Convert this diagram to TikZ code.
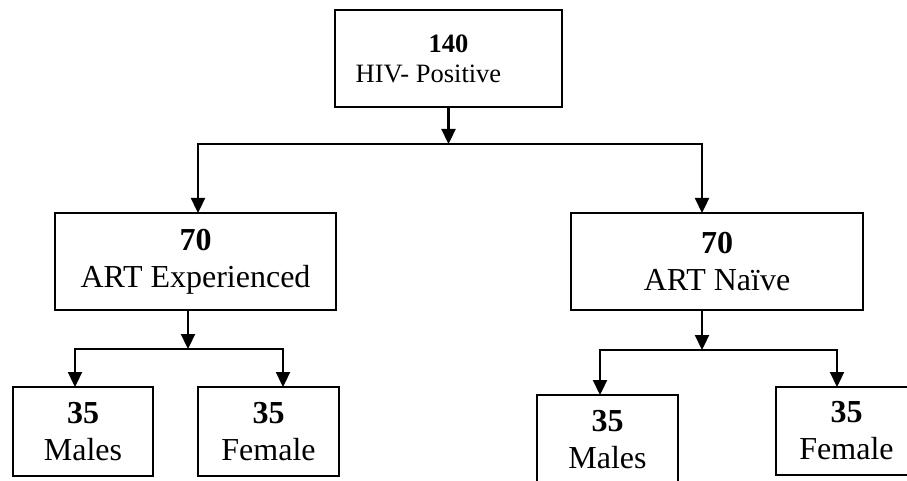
\documentclass[tikz,border=0pt]{standalone}
\usepackage{fontspec}
\setmainfont{Liberation Serif}
\usetikzlibrary{arrows.meta}
\begin{document}
\begin{tikzpicture}[x=1pt,y=-1pt,
  box/.style={draw, line width=2pt, inner sep=0pt, outer sep=0pt, align=center, font=\fontsize{32}{37}\selectfont},
  conn/.style={line width=2.3pt},
  hline/.style={conn, line cap=rect},
  arr/.style={conn, -{Triangle[width=14pt,length=15pt]}}]
\useasboundingbox (0,0) rectangle (907,481);
% boxes
\node[box, minimum width=227pt, minimum height=97pt, font=\fontsize{26.5}{30}\selectfont] (top) at (448.5,58.5) {\textbf{140}\\HIV- Positive\rule{40pt}{0pt}};
\node[box, minimum width=281pt, minimum height=97pt] (ML) at (195.5,261.5) {\textbf{70}\\ART Experienced};
\node[box, minimum width=292pt, minimum height=97pt] (MR) at (717,261.5) {\textbf{70}\\ART Naïve};
\node[box, minimum width=140pt, minimum height=89pt] (LM) at (83,431.5) {\textbf{35}\\Males};
\node[box, minimum width=141pt, minimum height=89pt] (LF) at (268.5,431.5) {\textbf{35}\\Female};
\node[box, minimum width=141pt, minimum height=89pt] (RM) at (607.5,439.5) {\textbf{35}\\Males};
\node[box, minimum width=141pt, minimum height=88pt] (RF) at (846.5,431) {\textbf{35}\\Female};
% junction coordinates
\coordinate (j0) at (448.5,144);
\coordinate (jL) at (198,144);
\coordinate (jR) at (702,144);
\coordinate (kL) at (188,349);
\coordinate (kLa) at (75,349);
\coordinate (kLb) at (283,349);
\coordinate (kR) at (702,350);
\coordinate (kRa) at (600,350);
\coordinate (kRb) at (837,350);
% connectors top level
\draw[arr] (top.south) -- (j0);
\draw[hline] (jL) -- (jR);
\draw[arr] (jL) -- (jL |- ML.north);
\draw[arr] (jR) -- (jR |- MR.north);
% left branch
\draw[arr] (kL |- ML.south) -- (kL);
\draw[hline] (kLa) -- (kLb);
\draw[arr] (kLa) -- (kLa |- LM.north);
\draw[arr] (kLb) -- (kLb |- LF.north);
% right branch
\draw[arr] (kR |- MR.south) -- (kR);
\draw[hline] (kRa) -- (kRb);
\draw[arr] (kRa) -- (kRa |- RM.north);
\draw[arr] (kRb) -- (kRb |- RF.north);
\end{tikzpicture}
\end{document}
